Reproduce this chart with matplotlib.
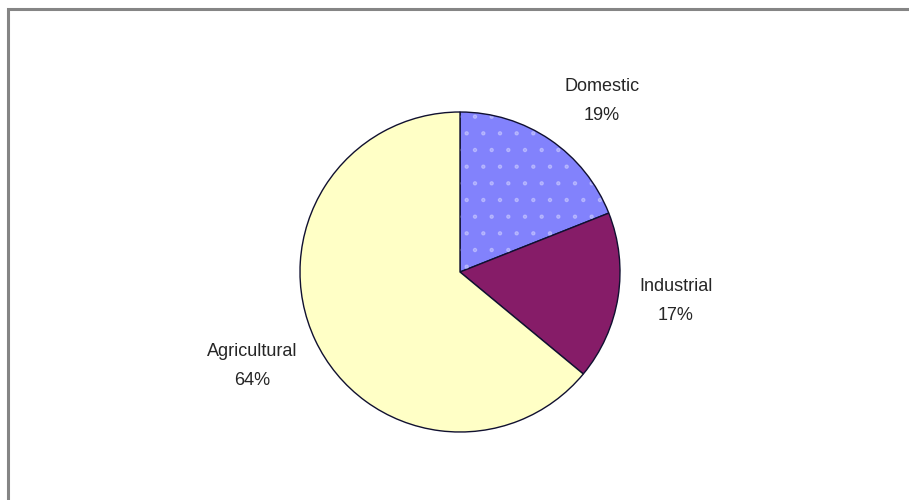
import matplotlib
matplotlib.use("Agg")
import matplotlib.pyplot as plt
from matplotlib.patches import Wedge

categories = ["Domestic", "Industrial", "Agricultural"]
shares = [19, 17, 64]
colors = ["#8282FC", "#861C68", "#FFFFC6"]

W, H = 909, 500
fig = plt.figure(figsize=(W / 100, H / 100), dpi=100)
ax = fig.add_axes([0, 0, 1, 1])

# gray frame (top and left visible, extends off right/bottom)
frame = plt.Rectangle((8, -20), W + 20, H - 9 + 20, fill=False,
                      edgecolor="#858585", linewidth=2.2)
ax.add_patch(frame)

center = (460, 228)
radius = 160
wedges, _ = ax.pie(shares, colors=colors, startangle=90, counterclock=False,
                   center=center, radius=radius, frame=True,
                   wedgeprops=dict(edgecolor="#101030", linewidth=1.0))
ax.set_xlim(0, W)
ax.set_ylim(0, H)
ax.set_aspect("equal")
ax.axis("off")

# faint white dot texture on the Domestic slice
plt.rcParams["hatch.linewidth"] = 0.8
w0 = wedges[0]
dots = Wedge(center, radius - 1, w0.theta1, w0.theta2, facecolor="none",
             edgecolor="#F0F0FF", hatch=".", linewidth=0, alpha=0.35)
ax.add_patch(dots)

label_pos = [(602, 399), (676, 199), (252, 134)]
for cat, val, (x, y) in zip(categories, shares, label_pos):
    ax.text(x, y, f"{cat}\n{val}%", ha="center", va="center",
            fontsize=13, family=["Liberation Sans", "DejaVu Sans"],
            color="#262626", linespacing=1.95)

fig.savefig("out.png", dpi=100)
